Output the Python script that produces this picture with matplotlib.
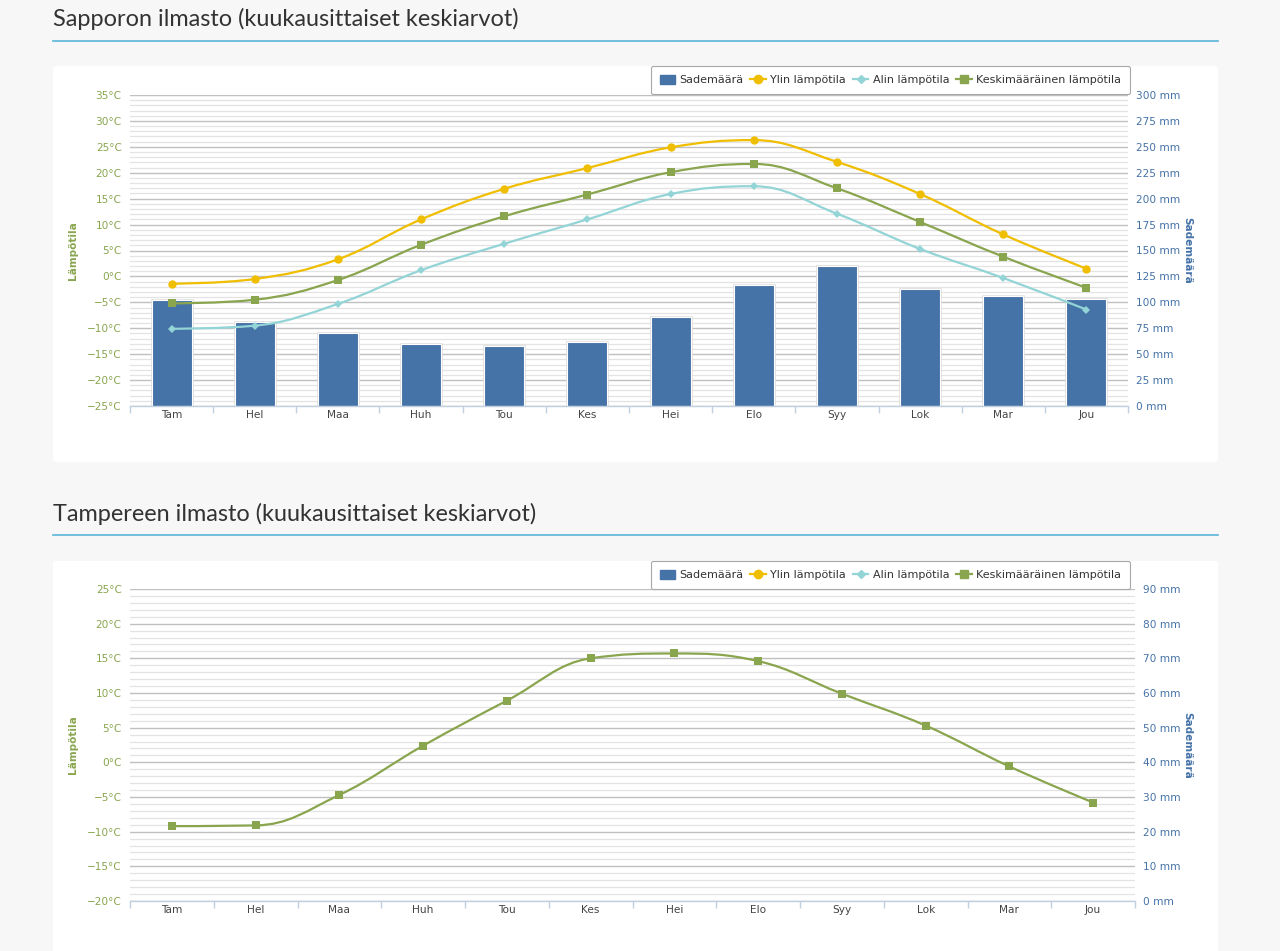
import matplotlib
matplotlib.use("Agg")
import matplotlib.pyplot as plt
from matplotlib.path import Path
from matplotlib.patches import PathPatch, FancyBboxPatch, Patch
from matplotlib.lines import Line2D
from matplotlib.ticker import MultipleLocator, FuncFormatter

# ---------------- data ----------------
months = ['Tam', 'Hel', 'Maa', 'Huh', 'Tou', 'Kes', 'Hei', 'Elo', 'Syy', 'Lok', 'Mar', 'Jou']

sapporo_precip = [102.6, 81, 70, 60, 58, 62, 86, 117, 135, 113, 106, 103]
sapporo_max = [-1.4, -0.5, 3.3, 11.0, 16.9, 20.9, 24.9, 26.3, 22.1, 15.9, 8.1, 1.5]
sapporo_min = [-10.1, -9.5, -5.3, 1.2, 6.3, 11.0, 15.9, 17.4, 12.1, 5.3, -0.3, -6.4]
sapporo_avg = [-5.2, -4.5, -0.7, 6.1, 11.6, 15.8, 20.1, 21.7, 17.0, 10.5, 3.8, -2.2]

tampere_avg = [-9.2, -9.1, -4.7, 2.4, 8.9, 15.0, 15.7, 14.6, 9.9, 5.3, -0.6, -5.8]

title_sapporo = 'Sapporon ilmasto (kuukausittaiset keskiarvot)'
title_tampere = 'Tampereen ilmasto (kuukausittaiset keskiarvot)'
legend_labels = ['Sademäärä', 'Ylin lämpötila', 'Alin lämpötila', 'Keskimääräinen lämpötila']
left_title = 'Lämpötila'
right_title = 'Sademäärä'

# ---------------- style ----------------
C_BAR = '#4572a7'
C_MAX = '#f0be00'
C_MIN = '#93d4d6'
C_AVG = '#89a54e'
C_TEXT = '#333333'
BG = '#f7f7f7'

W, H = 1280, 951
fig = plt.figure(figsize=(W / 100, H / 100), dpi=100, facecolor=BG)


def frect(x0, y0, x1, y1):
    return [x0 / W, 1 - y1 / H, (x1 - x0) / W, (y1 - y0) / H]


def card(x0, y0, x1, y1):
    p = FancyBboxPatch((x0 / W, 1 - y1 / H), (x1 - x0) / W, (y1 - y0) / H,
                       boxstyle='round,pad=0,rounding_size=0.003',
                       transform=fig.transFigure, facecolor='white',
                       edgecolor='none', zorder=0)
    fig.add_artist(p)


def header(text, y_text, y_line):
    fig.text(53 / W, 1 - y_text / H, text, ha='left', va='center',
             fontsize=16.9, color=C_TEXT, family=['Lato', 'DejaVu Sans'])
    fig.add_artist(Line2D([53 / W, 1218 / W], [1 - y_line / H] * 2,
                          transform=fig.transFigure, color='#5ab4d8', lw=1.2))


def spline_path(xs, ys):
    n = len(xs)
    s = 1.5
    d = s + 1
    lc = [None] * n
    rc = [None] * n
    for i in range(1, n - 1):
        px, py = xs[i], ys[i]
        lx, ly = xs[i - 1], ys[i - 1]
        nx, ny = xs[i + 1], ys[i + 1]
        lcx = (s * px + lx) / d
        lcy = (s * py + ly) / d
        rcx = (s * px + nx) / d
        rcy = (s * py + ny) / d
        corr = (rcy - lcy) * (rcx - px) / (rcx - lcx) + py - rcy
        lcy += corr
        rcy += corr
        if lcy > ly and lcy > py:
            lcy = max(ly, py); rcy = 2 * py - lcy
        elif lcy < ly and lcy < py:
            lcy = min(ly, py); rcy = 2 * py - lcy
        if rcy > ny and rcy > py:
            rcy = max(ny, py); lcy = 2 * py - rcy
        elif rcy < ny and rcy < py:
            rcy = min(ny, py); lcy = 2 * py - rcy
        lc[i] = (lcx, lcy)
        rc[i] = (rcx, rcy)
    verts = [(xs[0], ys[0])]
    codes = [Path.MOVETO]
    for i in range(1, n):
        c1 = rc[i - 1] if rc[i - 1] is not None else (xs[i - 1], ys[i - 1])
        c2 = lc[i] if lc[i] is not None else (xs[i], ys[i])
        verts += [c1, c2, (xs[i], ys[i])]
        codes += [Path.CURVE4] * 3
    return Path(verts, codes)


def spline(ax, ys, color, marker, ms, z):
    xs = list(range(len(ys)))
    ax.add_patch(PathPatch(spline_path(xs, ys), fill=False, edgecolor=color,
                           lw=1.6, zorder=z, capstyle='round', joinstyle='round'))
    ax.plot(xs, ys, linestyle='none', marker=marker, markersize=ms,
            color=color, markeredgewidth=0, zorder=z + 0.1)


def chart(px_rect, tlim, tstep, plim, pstep, pminor, precip, series, legend_top):
    x0, y0, x1, y1 = px_rect
    axp = fig.add_axes(frect(x0, y0, x1, y1))
    axp.set_facecolor('none')
    axt = axp.twinx()

    n = len(months)
    axp.set_xlim(-0.5, n - 0.5)
    axp.set_ylim(*plim)
    axt.set_ylim(*tlim)

    # grid (on precipitation axis, aligned with temperature ticks)
    axp.yaxis.set_major_locator(MultipleLocator(pstep))
    axp.yaxis.set_minor_locator(MultipleLocator(pminor))
    axp.grid(True, which='major', axis='y', color='#c0c0c0', lw=1.0)
    axp.grid(True, which='minor', axis='y', color='#e3e3e3', lw=0.9)
    axp.set_axisbelow(True)
    axp.yaxis.tick_right()
    axp.yaxis.set_major_formatter(FuncFormatter(lambda v, p: f'{v:.0f} mm'))
    axp.tick_params(axis='y', which='both', length=0, pad=6,
                    labelcolor=C_BAR, labelsize=7.6)

    axt.yaxis.set_major_locator(MultipleLocator(tstep))
    axt.yaxis.tick_left()
    axt.yaxis.set_major_formatter(FuncFormatter(lambda v, p: f'{v:.0f}°C'.replace('-', '\u2212')))
    axt.tick_params(axis='y', which='both', length=0, pad=6,
                    labelcolor=C_AVG, labelsize=7.6)

    # x axis
    axp.set_xticks(range(n))
    axp.set_xticklabels(months)
    axp.set_xticks([i - 0.5 for i in range(n + 1)], minor=True)
    axp.tick_params(axis='x', which='major', length=0, pad=3,
                    labelcolor='#444444', labelsize=7.6)
    axp.tick_params(axis='x', which='minor', length=5, width=1, color='#c0d0e0')
    axt.tick_params(axis='x', which='both', length=0)

    for ax in (axp, axt):
        for sp in ax.spines.values():
            sp.set_visible(False)
    axp.spines['bottom'].set_visible(True)
    axp.spines['bottom'].set_color('#c0d0e0')
    axp.spines['bottom'].set_linewidth(1)

    # titles
    axt.set_ylabel(left_title, color=C_AVG, fontsize=7.6, fontweight='bold')
    axt.yaxis.set_label_position('left')
    axt.yaxis.set_label_coords((78 - x0) / (x1 - x0), 0.5)
    axp.set_ylabel(right_title, color=C_BAR, fontsize=7.6, fontweight='bold',
                   rotation=270, va='center')
    axp.yaxis.set_label_position('right')
    axp.yaxis.set_label_coords((1192 - x0) / (x1 - x0), 0.5)

    if precip is not None:
        # soft shadow like the original columns
        axp.bar(range(n), precip, width=0.48, color='none', edgecolor='#dcdcdc',
                linewidth=1.8, zorder=1.9)
        axp.bar(range(n), precip, width=0.48, color=C_BAR, edgecolor='white',
                linewidth=0.8, zorder=2)

    z = 3
    for ys, color, marker, ms in series:
        spline(axt, ys, color, marker, ms, z)
        z += 1

    handles = [
        Patch(facecolor=C_BAR, edgecolor=C_BAR),
        Line2D([], [], color=C_MAX, marker='o', markersize=6, lw=1.6),
        Line2D([], [], color=C_MIN, marker='D', markersize=4.5, lw=1.6),
        Line2D([], [], color=C_AVG, marker='s', markersize=5.5, lw=1.6),
    ]
    leg = fig.legend(handles, legend_labels, loc='upper right',
                     bbox_to_anchor=(1130 / W, 1 - legend_top / H),
                     borderaxespad=0,
                     ncol=4, frameon=True, fontsize=8.0, handlelength=1.4,
                     handleheight=0.9, handletextpad=0.4, columnspacing=0.6,
                     borderpad=0.8, fancybox=True, labelcolor=C_TEXT)
    fr = leg.get_frame()
    fr.set_edgecolor('#a8a8a8')
    fr.set_linewidth(0.8)
    fr.set_facecolor('white')
    fr.set_alpha(1)
    return axp, axt


# ---------------- page ----------------
header(title_sapporo, 19, 41)
card(53, 66, 1218, 462)
chart((130, 95, 1128, 406), (-25, 35), 5, (0, 300), 25, 5, sapporo_precip,
      [(sapporo_max, C_MAX, 'o', 6),
       (sapporo_min, C_MIN, 'D', 4.5),
       (sapporo_avg, C_AVG, 's', 6)], 66)

header(title_tampere, 514, 535)
card(53, 561, 1218, 960)
chart((130, 589, 1135, 901), (-20, 25), 5, (0, 90), 10, 2, None,
      [(tampere_avg, C_AVG, 's', 6)], 561)

fig.savefig('out.png', dpi=100, facecolor=BG)
